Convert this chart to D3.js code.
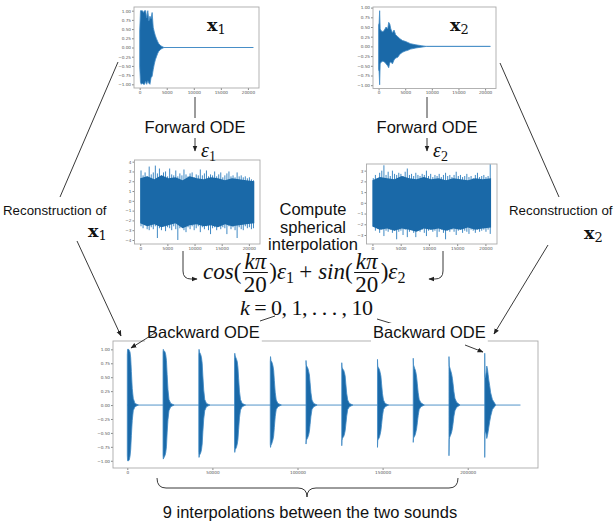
<!DOCTYPE html>
<html>
<head>
<meta charset="utf-8">
<script src="https://cdn.jsdelivr.net/npm/d3@7"></script>
<style>
body { margin: 0; background: #fff; }
svg { display: block; }
</style>
</head>
<body>
<svg id="fig" width="615" height="525"></svg>
<script>
// ---- data ----
// x1 envelope (sample index, max, min)
const x1Time = [0, 150, 300, 500, 700, 900, 1100, 1300, 1500, 1700, 1900, 2100, 2300, 2500, 2700, 2900, 3100, 3300, 3500, 3800, 4100, 4500, 21000];
const x1Max = [0.45, 1.0, 1.0, 1.0, 0.95, 1.0, 1.0, 0.8, 1.0, 0.72, 0.85, 0.78, 0.95, 0.55, 0.42, 0.32, 0.24, 0.17, 0.11, 0.06, 0.03, 0.0, 0.0];
const x1Min = [-0.5, -0.95, -1.0, -0.97, -1.0, -1.0, -0.92, -1.0, -0.9, -0.97, -1.0, -0.82, -0.78, -0.6, -0.45, -0.33, -0.25, -0.17, -0.11, -0.06, -0.03, 0.0, 0.0];

// x2 envelope
const x2Time = [0, 100, 200, 300, 500, 800, 1100, 1400, 1700, 1900, 2100, 2300, 2600, 2900, 3200, 3600, 4000, 4500, 5000, 5500, 6000, 7000, 8000, 9000, 21000];
const x2Max = [0.55, 0.6, 0.92, 0.45, 0.4, 0.38, 0.42, 0.5, 0.45, 0.62, 0.58, 0.45, 0.35, 0.42, 0.3, 0.25, 0.2, 0.15, 0.13, 0.1, 0.07, 0.04, 0.02, 0.0, 0.0];
const x2Min = [-0.6, -0.65, -0.99, -0.45, -0.4, -0.38, -0.4, -0.45, -0.5, -0.55, -0.42, -0.4, -0.45, -0.35, -0.3, -0.28, -0.2, -0.15, -0.12, -0.1, -0.07, -0.04, -0.02, 0.0, 0.0];

// noise eps1 / eps2 : extremes per bin (56 bins over 21000 samples) and dense core
const eps1Hi = [3.1, 2.6, 2.9, 2.5, 3.5, 2.7, 2.9, 3.6, 2.8, 3.3, 2.6, 2.9, 3.0, 2.5, 3.3, 2.7, 2.6, 3.1, 2.5, 2.8, 2.6, 3.2, 2.7, 2.5, 2.8, 2.9, 2.4, 2.7, 2.6, 3.2, 2.6, 2.8, 3.1, 2.5, 2.7, 2.6, 3.0, 2.5, 2.7, 2.9, 2.4, 2.6, 2.8, 3.0, 2.5, 2.6, 2.4, 2.9, 2.5, 2.6, 2.4, 2.5, 2.3, 2.4, 2.2, 2.1];
const eps1Lo = [-2.6, -2.8, -2.5, -2.9, -3.0, -2.7, -2.9, -2.6, -3.8, -2.8, -3.0, -2.6, -3.1, -2.7, -2.8, -3.0, -2.6, -2.9, -4.0, -2.8, -2.6, -3.0, -3.2, -2.7, -2.9, -2.6, -3.0, -2.8, -2.6, -3.2, -2.7, -2.9, -2.6, -3.0, -3.4, -2.8, -2.7, -3.0, -2.6, -2.9, -2.7, -2.8, -3.4, -2.6, -2.9, -2.7, -3.0, -3.8, -2.7, -2.9, -3.0, -2.6, -2.8, -2.7, -2.9, -2.8];
const eps2Hi = [2.3, 2.6, 2.2, 2.8, 3.0, 3.5, 2.6, 2.9, 2.5, 3.0, 2.7, 2.6, 2.8, 2.7, 2.5, 2.9, 3.2, 2.6, 2.7, 2.5, 2.8, 2.6, 2.5, 2.7, 2.6, 3.0, 2.5, 2.7, 2.4, 2.6, 2.5, 2.7, 2.4, 2.6, 2.8, 2.5, 2.6, 2.4, 2.6, 2.9, 2.5, 2.6, 2.4, 2.5, 2.7, 2.4, 2.5, 2.3, 2.6, 2.8, 2.4, 2.5, 2.6, 2.4, 2.5, 3.6];
const eps2Lo = [-2.2, -2.6, -2.4, -2.8, -2.5, -3.1, -2.6, -2.7, -2.5, -2.8, -2.6, -3.4, -2.7, -2.6, -3.0, -2.5, -3.2, -2.7, -2.5, -2.8, -3.2, -2.6, -2.7, -2.5, -2.8, -3.1, -2.6, -2.5, -2.7, -2.6, -3.2, -2.7, -2.5, -2.8, -3.4, -2.6, -2.7, -2.5, -2.7, -3.0, -2.6, -2.5, -2.8, -2.6, -2.7, -2.9, -2.5, -2.6, -2.8, -2.5, -2.7, -2.6, -2.5, -2.7, -2.5, -2.9];
const coreTime = [0, 1300, 2600, 3900, 5200, 6500, 7800, 9100, 10400, 11700, 13000, 14300, 15600, 16900, 18200, 19500, 21000];
const core1Hi = [2.3, 2.5, 2.2, 2.6, 2.3, 2.4, 2.1, 2.5, 2.3, 2.2, 2.4, 2.3, 2.1, 2.3, 2.2, 2.1, 2.0];
const core1Lo = [-2.3, -2.6, -2.4, -2.7, -2.5, -2.3, -2.8, -2.5, -2.4, -2.6, -2.5, -2.7, -2.4, -2.6, -2.5, -2.4, -2.3];
const core2Hi = [2.1, 2.4, 2.3, 2.2, 2.5, 2.3, 2.2, 2.4, 2.2, 2.3, 2.1, 2.3, 2.2, 2.1, 2.3, 2.2, 2.3];
const core2Lo = [-2.2, -2.5, -2.4, -2.6, -2.4, -2.5, -2.7, -2.4, -2.5, -2.4, -2.6, -2.4, -2.5, -2.3, -2.5, -2.4, -2.3];

// bottom: 11 generated sounds, k = 0..10
const burstStarts = [0, 21000, 42000, 63000, 84000, 105000, 126000, 147000, 168000, 189000, 210000];
const burstOffsets = [0, 150, 400, 800, 1200, 1600, 2000, 2400, 2900, 3500, 4500, 6500];
const burstHi = [
  [0.9, 1.0, 1.0, 1.0, 0.98, 0.95, 0.85, 0.6, 0.3, 0.12, 0.03, 0],
  [0.95, 1.0, 0.98, 0.97, 0.95, 0.9, 0.8, 0.55, 0.28, 0.1, 0.03, 0],
  [0.9, 1.0, 0.95, 0.93, 0.9, 0.85, 0.75, 0.52, 0.27, 0.1, 0.03, 0],
  [0.85, 0.93, 0.88, 0.85, 0.82, 0.78, 0.68, 0.48, 0.25, 0.1, 0.03, 0],
  [0.78, 0.87, 0.8, 0.78, 0.75, 0.7, 0.62, 0.44, 0.23, 0.09, 0.03, 0],
  [0.8, 0.72, 0.7, 0.68, 0.65, 0.6, 0.54, 0.4, 0.22, 0.09, 0.03, 0],
  [0.76, 0.68, 0.66, 0.64, 0.62, 0.58, 0.52, 0.38, 0.21, 0.09, 0.03, 0],
  [0.82, 0.7, 0.68, 0.66, 0.63, 0.58, 0.52, 0.38, 0.21, 0.09, 0.03, 0],
  [0.84, 0.72, 0.7, 0.66, 0.63, 0.58, 0.5, 0.38, 0.22, 0.1, 0.04, 0],
  [0.87, 0.7, 0.68, 0.64, 0.6, 0.55, 0.48, 0.38, 0.24, 0.12, 0.05, 0],
  [0.93, 0.5, 0.5, 0.58, 0.7, 0.65, 0.55, 0.45, 0.35, 0.22, 0.1, 0]
];
const burstLo = [
  [-0.9, -1.0, -1.0, -1.0, -0.98, -0.92, -0.8, -0.55, -0.28, -0.1, -0.03, 0],
  [-0.9, -0.97, -0.95, -0.93, -0.9, -0.85, -0.75, -0.5, -0.26, -0.1, -0.03, 0],
  [-0.85, -0.94, -0.9, -0.88, -0.85, -0.8, -0.7, -0.48, -0.25, -0.1, -0.03, 0],
  [-0.78, -0.85, -0.8, -0.78, -0.75, -0.7, -0.62, -0.44, -0.23, -0.09, -0.03, 0],
  [-0.7, -0.76, -0.72, -0.7, -0.66, -0.62, -0.55, -0.4, -0.21, -0.08, -0.03, 0],
  [-0.7, -0.64, -0.62, -0.6, -0.57, -0.53, -0.47, -0.35, -0.2, -0.08, -0.03, 0],
  [-0.73, -0.63, -0.6, -0.58, -0.56, -0.52, -0.46, -0.35, -0.2, -0.08, -0.03, 0],
  [-0.76, -0.64, -0.62, -0.6, -0.57, -0.52, -0.46, -0.35, -0.2, -0.08, -0.03, 0],
  [-0.67, -0.6, -0.58, -0.56, -0.53, -0.48, -0.42, -0.32, -0.19, -0.08, -0.03, 0],
  [-0.91, -0.62, -0.58, -0.55, -0.52, -0.48, -0.42, -0.33, -0.2, -0.1, -0.04, 0],
  [-0.94, -0.5, -0.48, -0.52, -0.6, -0.55, -0.48, -0.4, -0.3, -0.2, -0.08, 0]
];
const bottomSpan = [0, 231000];

// tick labels
const wavTicks = [1, 0.75, 0.5, 0.25, 0, -0.25, -0.5, -0.75, -1];
const shortXTicks = [0, 5000, 10000, 15000, 20000];
const eps1Ticks = [4, 3, 2, 1, 0, -1, -2, -3, -4];
const eps2Ticks = [3, 2, 1, 0, -1, -2, -3];
const longXTicks = [0, 50000, 100000, 150000, 200000];

// ---- drawing ----
const svg = d3.select('#fig');
const SANS = '"Liberation Sans", Arial, sans-serif';
const SERIF = '"Liberation Serif", "Times New Roman", serif';
const DARK = '#1a69a8', LIGHT = '#3f89c4';

svg.append('defs').append('marker')
  .attr('id', 'ah').attr('viewBox', '0 0 10 10').attr('refX', 9).attr('refY', 5)
  .attr('markerWidth', 6).attr('markerHeight', 6).attr('markerUnits', 'userSpaceOnUse')
  .attr('orient', 'auto')
  .append('path').attr('d', 'M0,1 L10,5 L0,9 Z').attr('fill', '#222');

function panel(box, xDomain, yDomain, xTicks, yTicks, yFmt) {
  const x = d3.scaleLinear().domain(xDomain).range([box.l, box.r]);
  const y = d3.scaleLinear().domain(yDomain).range([box.b, box.t]);
  const g = svg.append('g');
  const gx = g.append('g').attr('transform', `translate(0,${box.b})`)
    .call(d3.axisBottom(x).tickValues(xTicks).tickSize(2).tickPadding(1).tickFormat(d3.format('d')));
  const gy = g.append('g').attr('transform', `translate(${box.l},0)`)
    .call(d3.axisLeft(y).tickValues(yTicks).tickSize(2).tickPadding(1).tickFormat(yFmt));
  [gx, gy].forEach(a => {
    a.select('.domain').remove();
    a.attr('font-size', 4.2).attr('font-family', '"DejaVu Sans", sans-serif');
    a.selectAll('line').attr('stroke', '#888');
    a.selectAll('text').attr('fill', '#555');
  });
  const plot = g.append('g');
  g.append('rect').attr('x', box.l).attr('y', box.t)
    .attr('width', box.r - box.l).attr('height', box.b - box.t)
    .attr('fill', 'none').attr('stroke', '#aaa').attr('stroke-width', 0.9);
  return { x, y, plot };
}

const fmt2 = d3.format('.2f');
const fmtInt = d3.format('d');

function envelope(p, ts, hi, lo, fill, stroke) {
  const rows = ts.map((t, i) => ({ t, hi: hi[i], lo: lo[i] }));
  p.plot.append('path').datum(rows)
    .attr('d', d3.area().x(d => p.x(d.t)).y0(d => p.y(d.lo)).y1(d => p.y(d.hi)))
    .attr('fill', fill).attr('stroke', stroke || 'none').attr('stroke-width', 0.8);
}

// x1
const pA = panel({ l: 134, r: 259, t: 7, b: 88 }, [-1050, 22050], [-1.1, 1.1], shortXTicks, wavTicks, fmt2);
envelope(pA, x1Time, x1Max, x1Min, DARK, LIGHT);
// x2
const pB = panel({ l: 373, r: 496, t: 7, b: 88.5 }, [-1050, 22050], [-1.085, 1.0155], shortXTicks, wavTicks, fmt2);
envelope(pB, x2Time, x2Max, x2Min, DARK, LIGHT);

// noise panels: thin spikes per bin, dense core on top
function noise(p, hi, lo, cHi, cLo) {
  const idx = d3.scaleLinear().domain([0, hi.length - 1]).range([150, 20850]);
  p.plot.selectAll(null).data(hi).enter().append('line')
    .attr('x1', (d, i) => p.x(idx(i))).attr('x2', (d, i) => p.x(idx(i)))
    .attr('y1', d => p.y(d)).attr('y2', (d, i) => p.y(lo[i]))
    .attr('stroke', LIGHT).attr('stroke-width', 1);
  envelope(p, coreTime, cHi, cLo, DARK);
}
const pC = panel({ l: 134.5, r: 260, t: 160, b: 244 }, [-1050, 22050], [-4.41, 4.17], shortXTicks, eps1Ticks, fmtInt);
noise(pC, eps1Hi, eps1Lo, core1Hi, core1Lo);
const pD = panel({ l: 366.5, r: 497, t: 164, b: 244 }, [-1050, 22050], [-3.84, 3.62], shortXTicks, eps2Ticks, fmtInt);
noise(pD, eps2Hi, eps2Lo, core2Hi, core2Lo);

// bottom panel
const pE = panel({ l: 113, r: 538, t: 341, b: 468 }, [-8400, 241300], [-1.13, 1.15], longXTicks, wavTicks, fmt2);
pE.plot.append('path').datum(bottomSpan)
  .attr('d', d3.line().x(d => pE.x(d)).y(() => pE.y(0)))
  .attr('stroke', LIGHT).attr('stroke-width', 0.9).attr('fill', 'none');
burstStarts.forEach((s, k) => {
  envelope(pE, burstOffsets.map(o => s + o), burstHi[k], burstLo[k], DARK, LIGHT);
});

// ---- annotations ----
function label(x, y, s, size, anchor, bg) {
  const t = svg.append('text').attr('x', x).attr('y', y).attr('font-family', SANS)
    .attr('font-size', size).attr('fill', '#111').attr('text-anchor', anchor || 'start').text(s);
  if (bg) {
    const b = t.node().getBBox();
    svg.insert('rect', () => t.node()).attr('x', b.x - 2).attr('y', b.y)
      .attr('width', b.width + 4).attr('height', b.height + 3).attr('fill', '#fff');
  }
  return t;
}
function boldVec(x, y, sub) {
  const t = svg.append('text').attr('x', x).attr('y', y).attr('font-family', '"DejaVu Serif", serif')
    .attr('font-weight', 'bold').attr('font-size', 17.5).attr('fill', '#111');
  t.append('tspan').text('x');
  t.append('tspan').attr('dy', 3).attr('font-weight', 'normal').attr('font-size', 13).text(sub);
}
function eps(x, y, sub) {
  const t = svg.append('text').attr('x', x).attr('y', y).attr('font-family', SERIF)
    .attr('font-size', 20).attr('fill', '#111');
  t.append('tspan').attr('font-style', 'italic').text('ε');
  t.append('tspan').attr('dy', 4).attr('font-size', 14).text(sub);
}
function seg(x1, y1, x2, y2, arrow) {
  svg.append('line').attr('x1', x1).attr('y1', y1).attr('x2', x2).attr('y2', y2)
    .attr('stroke', '#222').attr('stroke-width', 0.9)
    .attr('marker-end', arrow ? 'url(#ah)' : null);
}
function curve(d, arrow) {
  svg.append('path').attr('d', d).attr('fill', 'none').attr('stroke', '#222').attr('stroke-width', 0.9)
    .attr('marker-end', arrow ? 'url(#ah)' : null);
}

boldVec(207, 31, '1');
boldVec(450, 31, '2');

// forward ODE
seg(195, 97, 195, 118);
seg(427, 97, 427, 118);
label(195, 133, 'Forward ODE', 16.5, 'middle');
label(427, 133, 'Forward ODE', 16.5, 'middle');
seg(195, 138, 195, 151, true);
seg(427, 138, 427, 151, true);
eps(201, 157, '1');
eps(433, 157, '2');

// reconstruction side labels
seg(118, 62, 60, 197);
label(3, 215, 'Reconstruction of', 13.3);
boldVec(88, 237, '1');
seg(77, 241, 121, 336, true);
seg(500, 63, 559, 197);
label(509, 215, 'Reconstruction of', 13.3);
boldVec(584, 239, '2');
seg(548, 245, 494, 334, true);

// spherical interpolation text
label(313, 215, 'Compute', 16.5, 'middle');
label(313, 233, 'spherical', 16.5, 'middle');
label(313, 250, 'interpolation', 16.5, 'middle');

// formula, laid out piece by piece
function mathRow(x0, yb, parts, size) {
  let cx = x0;
  parts.forEach(p => {
    if (p.num) {
      const n = svg.append('text').attr('font-family', SERIF).attr('font-size', size)
        .attr('font-style', 'italic').attr('text-anchor', 'middle').attr('fill', '#111').text(p.num);
      const dn = svg.append('text').attr('font-family', SERIF).attr('font-size', size)
        .attr('text-anchor', 'middle').attr('fill', '#111').text(p.den);
      const w = Math.max(n.node().getComputedTextLength(), dn.node().getComputedTextLength()) + 3;
      n.attr('x', cx + w / 2).attr('y', yb - 10);
      dn.attr('x', cx + w / 2).attr('y', yb + 13);
      svg.append('line').attr('x1', cx + 0.5).attr('x2', cx + w - 0.5).attr('y1', yb - 6.5).attr('y2', yb - 6.5)
        .attr('stroke', '#111').attr('stroke-width', 1);
      cx += w + (p.pad || 0);
    } else {
      const t = svg.append('text').attr('x', cx).attr('y', yb + (p.sub ? 4 : 0))
        .attr('font-family', SERIF).attr('font-size', p.sub ? size * 0.7 : size)
        .attr('font-style', p.it ? 'italic' : 'normal').attr('fill', '#111')
        .attr('xml:space', 'preserve').text(p.s);
      cx += t.node().getComputedTextLength() + (p.pad || 0);
    }
  });
  return cx;
}
mathRow(203, 279, [
  { s: 'cos', it: true }, { s: '(', pad: 1 }, { num: 'kπ', den: '20', pad: 1 }, { s: ')' },
  { s: 'ε', it: true }, { s: '1', sub: true, pad: 5 }, { s: '+', pad: 6 },
  { s: 'sin', it: true }, { s: '(', pad: 1 }, { num: 'kπ', den: '20', pad: 1 }, { s: ')' },
  { s: 'ε', it: true }, { s: '2', sub: true }
], 23);

const kt = svg.append('text').attr('x', 240).attr('y', 315).attr('font-family', SERIF)
  .attr('font-size', 22).attr('fill', '#111').attr('xml:space', 'preserve')
  .attr('textLength', 133).attr('lengthAdjust', 'spacing');
kt.append('tspan').attr('font-style', 'italic').text('k');
kt.append('tspan').text(' = 0, 1, . . . , 10');

// hooks into the formula
curve('M183,251 V271 Q183,279 191,279 H197', true);
curve('M443,251 V271 Q443,279 435,279 H429', true);

// backward ODE
seg(275, 316, 260, 321);
seg(377, 319, 400, 326);
label(147, 338, 'Backward ODE', 16.5, 'start', true);
label(373, 338, 'Backward ODE', 16.5, 'start', true);
seg(155, 333, 131, 348, true);
seg(465, 345, 483, 352, true);

// brace + caption
curve('M157,478 Q157,488 166,488 L298,488 Q307,488 307,497 Q307,488 316,488 L449,488 Q458,488 458,478');
label(310, 518, '9 interpolations between the two sounds', 16.5, 'middle');
</script>
</body>
</html>
